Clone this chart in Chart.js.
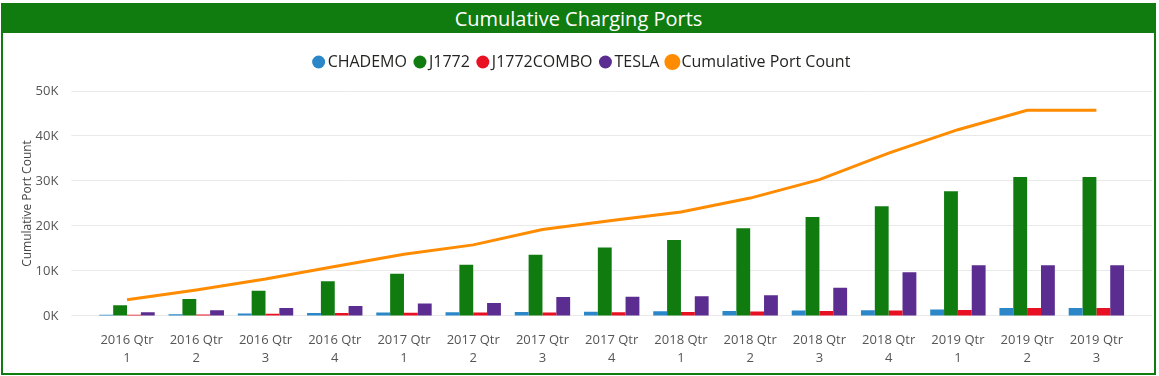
<!DOCTYPE html>
<html>
<head>
<meta charset="utf-8">
<title>Cumulative Charging Ports</title>
<script src="https://cdn.jsdelivr.net/npm/chart.js@4"></script>
<style>
  body { margin: 0; background: #fff; font-family: "Open Sans", sans-serif; }
  #frame {
    position: absolute; left: 1px; top: 3px;
    width: 1151px; height: 368px;
    border: 2px solid #107c10;
  }
  #bar {
    height: 28px; line-height: 28px;
    background: #107c10; color: #fff;
    text-align: center; font-size: 20px;
  }
  #wrap { position: relative; width: 1151px; height: 340px; }
</style>
</head>
<body>
<div id="frame">
  <div id="bar">Cumulative Charging Ports</div>
  <div id="wrap"><canvas id="portsChart"></canvas></div>
</div>
<script>
// quarters on the x axis (two-line labels)
const quarterLabels = [
  ["2016 Qtr", "1"], ["2016 Qtr", "2"], ["2016 Qtr", "3"], ["2016 Qtr", "4"],
  ["2017 Qtr", "1"], ["2017 Qtr", "2"], ["2017 Qtr", "3"], ["2017 Qtr", "4"],
  ["2018 Qtr", "1"], ["2018 Qtr", "2"], ["2018 Qtr", "3"], ["2018 Qtr", "4"],
  ["2019 Qtr", "1"], ["2019 Qtr", "2"], ["2019 Qtr", "3"]
];

// port counts per connector type
const chademo    = [300, 400, 550, 650, 750, 850, 900, 950, 1050, 1100, 1200, 1300, 1450, 1800, 1800];
const j1772      = [2400, 3800, 5600, 7700, 9400, 11400, 13600, 15200, 16900, 19500, 22000, 24400, 27700, 30900, 30900];
const j1772Combo = [300, 350, 500, 650, 700, 800, 800, 850, 900, 1000, 1100, 1200, 1350, 1800, 1800];
const tesla      = [850, 1300, 1800, 2200, 2800, 2900, 4200, 4300, 4400, 4600, 6300, 9700, 11300, 11300, 11300];
const cumulative = [3600, 5800, 8200, 11000, 13700, 15800, 19200, 21200, 23100, 26200, 30300, 36200, 41400, 45700, 45700];

const yTicks = [0, 10000, 20000, 30000, 40000, 50000];

Chart.defaults.font.family = "'Open Sans', sans-serif";

// legend needs some room under it before the plot starts
const legendGap = {
  id: "legendGap",
  beforeInit(chart) {
    const fit = chart.legend.fit;
    chart.legend.fit = function () {
      fit.bind(chart.legend)();
      this.height += 11;
    };
  }
};

const gridColor = "#e9e9e9";

new Chart(document.getElementById("portsChart"), {
  type: "bar",
  data: {
    labels: quarterLabels,
    datasets: [
      { label: "CHADEMO", data: chademo, backgroundColor: "#2b87c8", order: 1 },
      { label: "J1772", data: j1772, backgroundColor: "#107c10", order: 1 },
      { label: "J1772COMBO", data: j1772Combo, backgroundColor: "#e81123", order: 1 },
      { label: "TESLA", data: tesla, backgroundColor: "#5c2d91", order: 1 },
      {
        type: "line",
        label: "Cumulative Port Count",
        data: cumulative,
        borderColor: "#ff8c00",
        backgroundColor: "#ff8c00",
        borderWidth: 3,
        pointRadius: 0,
        tension: 0,
        order: 0
      }
    ]
  },
  options: {
    responsive: true,
    maintainAspectRatio: false,
    animation: false,
    datasets: {
      bar: { categoryPercentage: 0.8, barPercentage: 1.0 }
    },
    layout: { padding: { top: 9, left: 13, right: 2, bottom: 8 } },
    plugins: {
      tooltip: { enabled: false },
      legend: {
        position: "top",
        labels: {
          usePointStyle: true,
          pointStyle: "circle",
          boxWidth: 2,
          boxHeight: 9.2,
          padding: 12,
          color: "#252423",
          font: { size: 16 },
          sort: (a, b) => a.datasetIndex - b.datasetIndex
        }
      }
    },
    scales: {
      x: {
        grid: { display: false },
        border: { display: false },
        afterFit: (scale) => { scale.height -= 9; },
        ticks: {
          color: "#555",
          padding: 7,
          maxRotation: 0,
          autoSkip: false,
          font: { size: 13, lineHeight: 1.385 }
        }
      },
      y: {
        min: 0,
        max: 50000,
        afterBuildTicks: (axis) => { axis.ticks = yTicks.map(v => ({ value: v })); },
        afterFit: (scale) => { scale.width = 76.4; },
        grid: { color: gridColor, tickLength: 21 },
        border: { display: false },
        ticks: {
          color: "#555",
          padding: 13,
          font: { size: 13 },
          callback: (v) => (v / 1000) + "K"
        },
        title: {
          display: true,
          text: "Cumulative Port Count",
          color: "#444",
          font: { size: 12 }
        }
      },
      yRight: {
        position: "right",
        min: 0,
        max: 50000,
        afterBuildTicks: (axis) => { axis.ticks = yTicks.map(v => ({ value: v })); },
        grid: { color: gridColor, tickLength: 21, drawOnChartArea: false },
        border: { display: false },
        ticks: { display: false }
      }
    }
  },
  plugins: [legendGap]
});
</script>
</body>
</html>
